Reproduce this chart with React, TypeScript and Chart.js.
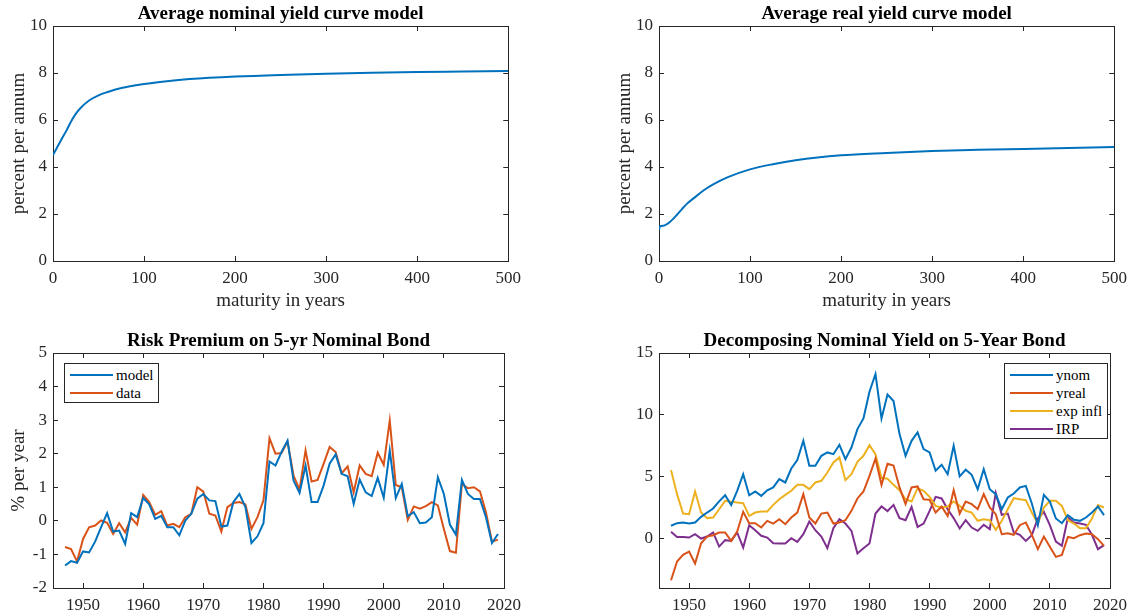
import React, { useEffect, useRef } from "react";
import { Chart, registerables } from "chart.js";

Chart.register(...registerables);

const FONT = '"Liberation Serif", "Times New Roman", Times, serif';
const AXIS_COLOR = "#262626";
const C_BLUE = "#0072BD";
const C_RED = "#D95319";
const C_YELLOW = "#EDB120";
const C_PURPLE = "#7E2F8E";

// ---- Top panels: average yield curves ----
const maturities = [0, 1, 5, 10, 15, 20, 25, 30, 40, 50, 60, 75, 100, 125, 150, 200, 250, 300, 350, 400, 450, 500];
const nominalCurve = [4.5, 4.58, 4.87, 5.22, 5.57, 5.95, 6.26, 6.5, 6.84, 7.05, 7.19, 7.36, 7.53, 7.65, 7.74, 7.85, 7.92, 7.97, 8.01, 8.04, 8.06, 8.08];
const realCurve = [1.32, 1.48, 1.5, 1.6, 1.77, 1.98, 2.2, 2.41, 2.73, 3.03, 3.27, 3.56, 3.9, 4.12, 4.29, 4.5, 4.6, 4.68, 4.73, 4.77, 4.81, 4.85];

// ---- Bottom panels: annual series 1947-2019 ----
const years = [
  1947, 1948, 1949, 1950, 1951, 1952, 1953, 1954, 1955, 1956, 1957, 1958, 1959,
  1960, 1961, 1962, 1963, 1964, 1965, 1966, 1967, 1968, 1969,
  1970, 1971, 1972, 1973, 1974, 1975, 1976, 1977, 1978, 1979,
  1980, 1981, 1982, 1983, 1984, 1985, 1986, 1987, 1988, 1989,
  1990, 1991, 1992, 1993, 1994, 1995, 1996, 1997, 1998, 1999,
  2000, 2001, 2002, 2003, 2004, 2005, 2006, 2007, 2008, 2009,
  2010, 2011, 2012, 2013, 2014, 2015, 2016, 2017, 2018, 2019,
];

const rpModel = [
  -1.33, -1.2, -1.25, -0.91, -0.94, -0.62, -0.19, 0.23, -0.32, -0.29, -0.69, 0.23, 0.11,
  0.68, 0.49, 0.06, 0.15, -0.19, -0.19, -0.43, 0.01, 0.21, 0.66,
  0.8, 0.61, 0.59, -0.17, -0.14, 0.56, 0.8, 0.41, -0.66, -0.46,
  -0.07, 1.77, 1.65, 2.05, 2.39, 1.2, 0.83, 1.65, 0.56, 0.56,
  1.05, 1.7, 1.98, 1.4, 1.33, 0.51, 1.23, 0.85, 0.74, 1.28,
  0.69, 2.1, 0.68, 1.1, 0.14, 0.26, -0.07, -0.05, 0.11, 1.3,
  0.8, -0.11, -0.41, 1.22, 0.8, 0.65, 0.65, 0.11, -0.66, -0.39,
];
const rpData = [
  -0.78, -0.84, -1.21, -0.54, -0.19, -0.14, 0.01, -0.06, -0.39, -0.07, -0.34, 0.09, -0.11,
  0.77, 0.56, 0.18, 0.29, -0.14, -0.09, -0.19, 0.11, 0.21, 1.0,
  0.87, 0.21, 0.16, -0.32, 0.41, 0.53, 0.56, 0.49, -0.24, 0.11,
  0.61, 2.46, 2.0, 2.02, 2.36, 1.35, 0.93, 2.1, 1.17, 1.22,
  1.7, 2.2, 2.05, 1.42, 1.62, 0.85, 1.65, 1.4, 1.33, 2.03,
  1.67, 2.99, 1.07, 1.0, 0.03, 0.43, 0.36, 0.44, 0.56, 0.46,
  -0.24, -0.9, -0.95, 1.1, 0.97, 1.0, 0.88, 0.26, -0.62, -0.56,
];

const ynom = [
  1.03, 1.24, 1.3, 1.21, 1.3, 1.75, 2.1, 2.43, 3.0, 3.5, 2.7, 3.86, 5.2,
  3.5, 3.8, 3.45, 3.9, 4.13, 4.8, 4.53, 5.66, 6.34, 7.9,
  5.88, 5.88, 6.69, 6.96, 6.82, 7.58, 6.42, 7.36, 8.85, 9.71,
  11.87, 13.3, 9.71, 11.64, 11.12, 8.44, 6.69, 7.9, 8.58, 7.23,
  6.96, 5.48, 5.96, 5.2, 7.5, 5.02, 5.56, 5.15, 3.99, 5.61,
  3.99, 3.59, 2.37, 3.32, 3.64, 4.13, 4.26, 2.83, 1.08, 3.53,
  2.99, 1.62, 1.24, 1.89, 1.51, 1.43, 1.7, 2.1, 2.59, 1.89,
];
const yreal = [
  -3.37, -1.86, -1.32, -1.05, -2.02, -0.38, 0.16, 0.27, 0.49, 0.49, -0.19, 0.57, 2.16,
  1.24, 1.24, 0.89, 1.43, 1.21, 1.56, 1.16, 1.7, 2.1, 3.59,
  1.7, 1.21, 2.02, 2.1, 1.21, 1.3, 1.48, 2.24, 3.24, 3.8,
  5.07, 6.47, 4.34, 6.05, 5.9, 4.13, 2.78, 4.13, 4.21, 3.18,
  3.13, 2.1, 2.59, 1.83, 3.91, 2.02, 2.99, 2.78, 2.37, 3.59,
  2.51, 1.97, 0.35, 0.43, 0.3, 1.08, 1.3, 0.3, -0.86, 0.16,
  -0.67, -1.48, -1.32, 0.13, 0.03, 0.27, 0.4, 0.35, -0.05, -0.59,
];
const expInfl = [
  5.53, 3.59, 2.02, 1.97, 3.8, 2.1, 1.65, 1.7, 2.37, 3.05, 2.97, 2.91, 2.86,
  1.83, 2.1, 2.19, 2.19, 2.72, 3.18, 3.53, 3.86, 4.34, 4.34,
  3.99, 4.53, 4.67, 5.34, 6.15, 6.56, 4.72, 5.21, 6.2, 6.69,
  7.55, 6.82, 4.91, 4.83, 4.34, 3.91, 3.18, 2.99, 4.07, 3.86,
  3.37, 2.64, 2.51, 2.59, 2.99, 2.64, 2.24, 2.1, 1.43, 1.56,
  1.48, 0.7, 1.43, 2.37, 3.26, 3.18, 3.1, 2.1, 1.21, 2.51,
  3.05, 3.05, 2.64, 1.48, 1.21, 0.84, 0.84, 1.62, 2.7, 2.51,
];
const irp = [
  0.54, 0.13, 0.13, 0.08, 0.35, 0, 0.16, 0.49, -0.65, -0.13, -0.19, 0.49, -0.73,
  1.08, 0.67, 0.22, 0.08, -0.38, -0.4, -0.4, 0.03, -0.27, 0.35,
  1.38, 0.67, 0.16, -0.78, 0.84, 1.56, 1.21, 0.62, -1.21, -0.78,
  -0.4, 2.02, 2.59, 2.22, 2.72, 1.65, 1.48, 2.56, 0.94, 1.21,
  2.24, 3.37, 3.24, 2.37, 1.65, 0.81, 1.48, 0.89, 0.62, 1.11,
  0.76, 3.67, 1.92, 2.02, 0.49, 0.3, -0.19, 0.27, 1.62, 2.16,
  1.08, -0.24, -0.59, 1.7, 1.3, 1.21, 1.11, 0.3, -0.86, -0.54,
];

// ---- Tick labels ----
const maturityTicks = [0, 100, 200, 300, 400, 500];
const curveYTicks = [0, 2, 4, 6, 8, 10];
const yearTicks = [1950, 1960, 1970, 1980, 1990, 2000, 2010, 2020];
const rpYTicks = [-2, -1, 0, 1, 2, 3, 4, 5];
const decompYTicks = [0, 5, 10, 15];

type Series = { label: string; xs: number[]; ys: number[]; color: string; smooth?: boolean };
type LegendSpec = { side: "left" | "right"; width: number };

type PanelProps = {
  left: number; // plot area left (page px)
  top: number; // plot area top (page px)
  title: string;
  xTitle?: string;
  yTitle?: string;
  xMin: number; xMax: number; xTicks: number[];
  yMin: number; yMax: number; yTicks: number[];
  xAxisHeight: number;
  series: Series[];
  legend?: LegendSpec;
};

const PLOT_W = 460;
const PLOT_H = 235;
const Y_AXIS_W = 50;
const TITLE_H = 26;
const PAD_RIGHT = 20;

function Panel(p: PanelProps) {
  const ref = useRef<HTMLCanvasElement | null>(null);
  const cw = Y_AXIS_W + PLOT_W + PAD_RIGHT;
  const ch = TITLE_H + PLOT_H + p.xAxisHeight;

  useEffect(() => {
    if (!ref.current) return;
    const tickFont = { family: FONT, size: 17 };
    const labelFont = { family: FONT, size: 19 };
    const setTicks = (vals: number[]) => (scale: any) => {
      scale.ticks = vals.map((v) => ({ value: v }));
    };
    const grid = {
      display: true,
      drawOnChartArea: false,
      drawTicks: true,
      tickLength: -5,
      color: AXIS_COLOR,
      lineWidth: 1,
    };
    const border = { display: true, color: AXIS_COLOR, width: 1 };

    const chart = new Chart(ref.current, {
      type: "line",
      data: {
        datasets: p.series.map((s) => ({
          label: s.label,
          data: s.xs.map((x, i) => ({ x, y: s.ys[i] })),
          borderColor: s.color,
          backgroundColor: s.color,
          borderWidth: 2,
          pointRadius: 0,
          fill: false,
          tension: 0,
          cubicInterpolationMode: s.smooth ? "monotone" : "default",
        })),
      },
      options: {
        animation: false,
        responsive: false,
        maintainAspectRatio: false,
        events: [],
        layout: { padding: { left: 0, right: PAD_RIGHT, top: 0, bottom: 0 } },
        plugins: {
          legend: { display: false },
          tooltip: { enabled: false },
          title: {
            display: true,
            text: p.title,
            fullSize: false,
            color: "#000",
            font: { family: FONT, size: 19, weight: "bold" },
            padding: { top: 3, bottom: 0.2 },
          },
        },
        scales: {
          x: {
            type: "linear",
            position: "bottom",
            min: p.xMin,
            max: p.xMax,
            afterBuildTicks: setTicks(p.xTicks),
            afterFit: (s: any) => { s.height = p.xAxisHeight; },
            grid,
            border,
            ticks: {
              font: tickFont,
              color: AXIS_COLOR,
              padding: 12,
              maxRotation: 0,
              autoSkip: false,
              callback: (v: any) => String(v),
            },
            title: p.xTitle
              ? { display: true, text: p.xTitle, font: labelFont, color: AXIS_COLOR, padding: { top: 0, bottom: 9 } }
              : { display: false },
          },
          x2: {
            type: "linear",
            position: "top",
            min: p.xMin,
            max: p.xMax,
            afterBuildTicks: setTicks(p.xTicks),
            afterFit: (s: any) => { s.height = 0; },
            grid,
            border,
            ticks: { display: false },
          },
          y: {
            type: "linear",
            position: "left",
            min: p.yMin,
            max: p.yMax,
            afterBuildTicks: setTicks(p.yTicks),
            afterFit: (s: any) => { s.width = Y_AXIS_W; },
            grid,
            border,
            ticks: {
              font: tickFont,
              color: AXIS_COLOR,
              padding: 11,
              autoSkip: false,
              callback: (v: any) => String(v),
            },
            title: p.yTitle
              ? { display: true, text: p.yTitle, font: labelFont, color: AXIS_COLOR, padding: { top: 5, bottom: 0 } }
              : { display: false },
          },
          y2: {
            type: "linear",
            position: "right",
            min: p.yMin,
            max: p.yMax,
            afterBuildTicks: setTicks(p.yTicks),
            afterFit: (s: any) => { s.width = 0; },
            grid,
            border,
            ticks: { display: false },
          },
        },
      } as any,
    });
    return () => chart.destroy();
  }, []);

  let legendEl: React.ReactNode = null;
  if (p.legend) {
    const rows = p.series.length;
    const boxH = 22 + (rows - 1) * 18;
    const boxLeft = p.legend.side === "left" ? p.left + 11 : p.left + PLOT_W - 11 - p.legend.width;
    const boxTop = p.top + 10;
    legendEl = (
      <div
        style={{
          position: "absolute",
          left: boxLeft,
          top: boxTop,
          width: p.legend.width,
          height: boxH,
          boxSizing: "border-box",
          border: `1px solid ${AXIS_COLOR}`,
          background: "#fff",
        }}
      >
        {p.series.map((s, i) => (
          <div key={s.label} style={{ position: "absolute", left: 0, top: 11 + i * 18 - 9, height: 18, width: "100%" }}>
            <div
              style={{
                position: "absolute",
                left: 5,
                top: 8,
                width: 43,
                height: 2,
                background: s.color,
              }}
            />
            <div
              style={{
                position: "absolute",
                left: 51,
                top: 0,
                height: 18,
                lineHeight: "18px",
                fontFamily: FONT,
                fontSize: 15,
                color: "#000",
                whiteSpace: "nowrap",
              }}
            >
              {s.label}
            </div>
          </div>
        ))}
      </div>
    );
  }

  return (
    <>
      <canvas
        ref={ref}
        width={cw}
        height={ch}
        style={{
          position: "absolute",
          left: p.left - Y_AXIS_W,
          top: p.top - TITLE_H,
          width: cw,
          height: ch,
        }}
      />
      {legendEl}
    </>
  );
}

export default function App() {
  return (
    <div style={{ position: "absolute", left: 0, top: 0, width: 1140, height: 616, background: "#fff", overflow: "hidden" }}>
      <Panel
        left={53}
        top={26}
        title="Average nominal yield curve model"
        xTitle="maturity in years"
        yTitle="percent per annum"
        xMin={0} xMax={500} xTicks={maturityTicks}
        yMin={0} yMax={10} yTicks={curveYTicks}
        xAxisHeight={60}
        series={[{ label: "nominal", xs: maturities, ys: nominalCurve, color: C_BLUE, smooth: true }]}
      />
      <Panel
        left={659}
        top={26}
        title="Average real yield curve model"
        xTitle="maturity in years"
        yTitle="percent per annum"
        xMin={0} xMax={500} xTicks={maturityTicks}
        yMin={0} yMax={10} yTicks={curveYTicks}
        xAxisHeight={60}
        series={[{ label: "real", xs: maturities, ys: realCurve, color: C_BLUE, smooth: true }]}
      />
      <Panel
        left={53}
        top={353}
        title="Risk Premium on 5-yr Nominal Bond"
        yTitle="% per year"
        xMin={1945} xMax={2020} xTicks={yearTicks}
        yMin={-2} yMax={5} yTicks={rpYTicks}
        xAxisHeight={28}
        series={[
          { label: "model", xs: years, ys: rpModel, color: C_BLUE },
          { label: "data", xs: years, ys: rpData, color: C_RED },
        ]}
        legend={{ side: "left", width: 95 }}
      />
      <Panel
        left={659}
        top={353}
        title="Decomposing Nominal Yield on 5-Year Bond"
        xMin={1945} xMax={2020} xTicks={yearTicks}
        yMin={-4} yMax={15} yTicks={decompYTicks}
        xAxisHeight={28}
        series={[
          { label: "ynom", xs: years, ys: ynom, color: C_BLUE },
          { label: "yreal", xs: years, ys: yreal, color: C_RED },
          { label: "exp infl", xs: years, ys: expInfl, color: C_YELLOW },
          { label: "IRP", xs: years, ys: irp, color: C_PURPLE },
        ]}
        legend={{ side: "right", width: 104 }}
      />
    </div>
  );
}
